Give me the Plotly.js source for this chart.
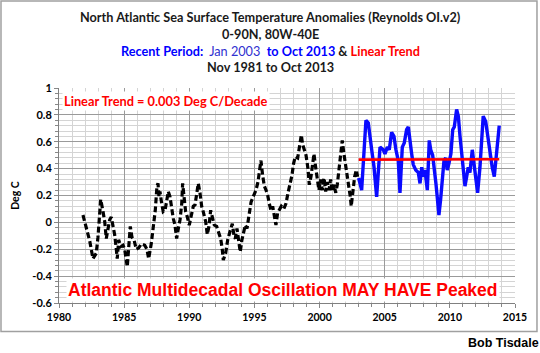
<!DOCTYPE html>
<html>
<head>
<meta charset="utf-8">
<script src="https://cdn.plot.ly/plotly-3.0.1.min.js"></script>
<style>
  html, body { margin: 0; padding: 0; background: #ffffff; }
  #chart { width: 540px; height: 353px; }
</style>
</head>
<body>
<div id="chart"></div>
<script>
// Black dashed series: Nov 1981 to Dec 2002 (decimal year, deg C anomaly)
const earlyYears = [
  1981.84, 1982.10, 1982.36, 1982.61, 1982.86, 1982.99, 1983.12, 1983.20, 1983.38, 1983.51,
  1983.63, 1983.76, 1983.89, 1984.01, 1984.14, 1984.27, 1984.40, 1984.47, 1984.58, 1984.74,
  1984.91, 1985.04, 1985.24, 1985.35, 1985.47, 1985.60, 1985.76, 1985.93, 1986.12, 1986.32,
  1986.58, 1986.75, 1986.88, 1987.08, 1987.29, 1987.39, 1987.52, 1987.60, 1987.67, 1987.75,
  1987.88, 1988.00, 1988.14, 1988.27, 1988.39, 1988.52, 1988.65, 1988.77, 1988.90, 1989.03,
  1989.16, 1989.29, 1989.42, 1989.49, 1989.62, 1989.72, 1989.85, 1990.00, 1990.13, 1990.31,
  1990.44, 1990.57, 1990.69, 1990.82, 1990.95, 1991.07, 1991.26, 1991.38, 1991.51, 1991.64,
  1991.77, 1991.92, 1992.10, 1992.23, 1992.41, 1992.53, 1992.61, 1992.79, 1992.95, 1993.12,
  1993.30, 1993.45, 1993.53, 1993.66, 1993.79, 1993.91, 1994.04, 1994.18, 1994.30, 1994.43,
  1994.56, 1994.74, 1994.94, 1995.12, 1995.27, 1995.40, 1995.50, 1995.63, 1995.76, 1995.89,
  1996.02, 1996.14, 1996.27, 1996.40, 1996.52, 1996.65, 1996.78, 1996.91, 1997.06, 1997.25,
  1997.42, 1997.58, 1997.75, 1997.88, 1998.01, 1998.14, 1998.32, 1998.47, 1998.60, 1998.70,
  1998.83, 1998.96, 1999.11, 1999.21, 1999.34, 1999.44, 1999.57, 1999.70, 1999.82, 1999.95,
  2000.08, 2000.21, 2000.34, 2000.47, 2000.59, 2000.72, 2000.85, 2000.97, 2001.11, 2001.24,
  2001.36, 2001.49, 2001.62, 2001.74, 2001.87, 2002.00, 2002.13, 2002.26, 2002.36, 2002.43,
  2002.56, 2002.69, 2002.82, 2002.92
];
const earlyAnoms = [
  0.055, -0.045, -0.14, -0.27, -0.23, -0.11, 0.04, 0.17, 0.08, 0.005,
  -0.12, -0.045, 0.02, 0.04, -0.03, -0.09, -0.20, -0.27, -0.13, -0.18,
  -0.17, -0.20, -0.33, -0.20, -0.03, -0.11, -0.13, -0.20, -0.19, -0.16,
  -0.17, -0.20, -0.27, -0.16, 0.005, 0.09, 0.27, 0.29, 0.19, 0.23,
  0.14, 0.08, 0.09, 0.17, 0.23, 0.19, 0.09, 0.03, -0.02, -0.12,
  -0.045, 0.02, 0.14, 0.29, 0.17, 0.08, 0.04, -0.02, 0.04, 0.12,
  0.13, 0.22, 0.29, 0.22, 0.12, 0.08, 0.005, -0.09, -0.03, 0.09,
  0.04, -0.02, -0.03, -0.07, -0.12, -0.20, -0.28, -0.23, -0.13, -0.07,
  -0.01, -0.11, -0.12, -0.045, -0.14, -0.22, -0.13, -0.08, -0.02, -0.045,
  0.04, 0.15, 0.20, 0.24, 0.30, 0.40, 0.46, 0.35, 0.27, 0.24,
  0.20, 0.14, 0.09, 0.12, 0.04, -0.02, 0.07, 0.10, 0.12, 0.10,
  0.14, 0.22, 0.29, 0.35, 0.44, 0.49, 0.48, 0.56, 0.65, 0.58,
  0.54, 0.50, 0.40, 0.28, 0.34, 0.41, 0.51, 0.41, 0.34, 0.24,
  0.32, 0.24, 0.33, 0.23, 0.30, 0.24, 0.32, 0.23, 0.28, 0.22,
  0.28, 0.39, 0.51, 0.61, 0.51, 0.43, 0.35, 0.27, 0.19, 0.12,
  0.22, 0.34, 0.39, 0.34
];

// Blue recent period: Jan 2003 to Oct 2013
const recentYears = [
  2003.00, 2003.23, 2003.56, 2003.74, 2004.00, 2004.18, 2004.38, 2004.64, 2004.89, 2005.02,
  2005.20, 2005.35, 2005.53, 2005.71, 2005.86, 2006.04, 2006.17, 2006.35, 2006.50, 2006.68,
  2006.81, 2006.94, 2007.07, 2007.19, 2007.38, 2007.58, 2007.71, 2007.84, 2007.96, 2008.09,
  2008.27, 2008.42, 2008.53, 2008.68, 2008.78, 2008.93, 2009.03, 2009.16, 2009.29, 2009.42,
  2009.55, 2009.68, 2009.80, 2009.93, 2010.08, 2010.22, 2010.34, 2010.52, 2010.65, 2010.78,
  2010.91, 2011.03, 2011.16, 2011.29, 2011.41, 2011.54, 2011.72, 2011.85, 2011.98, 2012.13,
  2012.31, 2012.44, 2012.56, 2012.75, 2012.90, 2013.08, 2013.25, 2013.41, 2013.59, 2013.79
];
const recentAnoms = [
  0.33, 0.24, 0.76, 0.74, 0.54, 0.41, 0.19, 0.56, 0.54, 0.51,
  0.56, 0.54, 0.67, 0.64, 0.54, 0.46, 0.22, 0.56, 0.59, 0.69,
  0.71, 0.59, 0.51, 0.43, 0.39, 0.37, 0.29, 0.41, 0.34, 0.39,
  0.24, 0.61, 0.54, 0.50, 0.39, 0.29, 0.19, 0.055, 0.17, 0.32,
  0.46, 0.48, 0.39, 0.44, 0.51, 0.69, 0.71, 0.84, 0.79, 0.64,
  0.49, 0.39, 0.27, 0.34, 0.41, 0.37, 0.54, 0.44, 0.32, 0.22,
  0.41, 0.66, 0.79, 0.75, 0.64, 0.49, 0.41, 0.34, 0.54, 0.72
];

// Linear trend of the recent period (0.003 deg C/decade)
const trendYears = [2003.00, 2013.79];
const trendAnoms = [0.467, 0.470];

// Axis ticks
const yTickVals = [-0.6, -0.4, -0.2, 0, 0.2, 0.4, 0.6, 0.8, 1];
const yTickText = ["-0.6", "-0.4", "-0.2", "0", "0.2", "0.4", "0.6", "0.8", "1"];
const xTickVals = [1980, 1985, 1990, 1995, 2000, 2005, 2010, 2015];
const xTickText = ["1980", "1985", "1990", "1995", "2000", "2005", "2010", "2015"];

// Title lines
const titleLines = [
  '<b>North Atlantic Sea Surface Temperature Anomalies (Reynolds OI.v2)</b>',
  '<b>0-90N, 80W-40E</b>',
  '<b><span style="color:#0000ff">Recent Period: </span></b><span style="color:#3030d0"> Jan 2003 </span><b><span style="color:#0000ff"> to Oct 2013</span> &amp; <span style="color:#ff0000">Linear Trend</span></b>',
  '<b>Nov 1981 to Oct 2013</b>'
];

const bold = s => '<b>' + s + '</b>';

const traces = [
  { x: earlyYears, y: earlyAnoms, type: 'scatter', mode: 'lines',
    line: { color: '#000000', width: 3.2, dash: '6px,3px' }, hoverinfo: 'skip' },
  { x: recentYears, y: recentAnoms, type: 'scatter', mode: 'lines',
    line: { color: '#0a0aff', width: 3.4 }, hoverinfo: 'skip' },
  { x: trendYears, y: trendAnoms, type: 'scatter', mode: 'lines',
    line: { color: '#ff0000', width: 2.6 }, hoverinfo: 'skip' }
];

const FT = 'Lato, "Open Sans", sans-serif';
const AR = '"Liberation Sans", Arial, sans-serif';

// plot area: x 59..515, y 88..303 in pixels
const titleY = [1.3302, 1.2512, 1.1721, 1.0977];
const titleAnns = titleLines.map((t, i) => ({
  text: t, xref: 'paper', yref: 'paper', x: (270 - 59) / 456, y: titleY[i],
  xanchor: 'center', yanchor: 'middle', showarrow: false,
  font: { family: FT, size: 12.7, color: '#1a1a1a' }
}));

const layout = {
  width: 540, height: 353,
  margin: { l: 59, r: 25, t: 88, b: 50, pad: 0 },
  paper_bgcolor: '#ffffff', plot_bgcolor: '#ffffff',
  showlegend: false,
  xaxis: {
    range: [1980, 2015], tickvals: xTickVals, ticktext: xTickText.map(bold),
    showgrid: true, gridcolor: '#9a9a9a', gridwidth: 1,
    minor: { dtick: 1, showgrid: true, gridcolor: '#d4d4d4', ticks: 'outside', ticklen: 3, tickcolor: '#888' },
    ticks: 'outside', ticklen: 4, tickcolor: '#888',
    showline: true, linecolor: '#808080', linewidth: 1,
    zeroline: false,
    tickfont: { family: FT, size: 10.5, color: '#000000' }
  },
  yaxis: {
    range: [-0.6, 1], tickvals: yTickVals, ticktext: yTickText.map(bold),
    showgrid: true, gridcolor: '#9a9a9a', gridwidth: 1,
    minor: { dtick: 0.04, showgrid: true, gridcolor: '#d4d4d4', ticks: 'outside', ticklen: 3, tickcolor: '#888' },
    ticks: 'outside', ticklen: 4, tickcolor: '#888',
    showline: true, linecolor: '#808080', linewidth: 1,
    zeroline: false,
    tickfont: { family: FT, size: 11, color: '#000000' },
    title: { text: '<b>Deg C</b>', font: { family: FT, size: 10.5, color: '#000000' }, standoff: 10 }
  },
  shapes: [
    { type: 'rect', xref: 'paper', yref: 'paper',
      x0: -0.1272, x1: 1.0482, y0: -0.1330, y1: 1.4047,
      line: { color: '#a0a0a0', width: 1.5 }, fillcolor: 'rgba(0,0,0,0)', layer: 'below' }
  ],
  annotations: titleAnns.concat([
    { text: '<b>Linear Trend = 0.003 Deg C/Decade</b>', xref: 'paper', yref: 'paper',
      x: 0.006, y: 0.94, xanchor: 'left', yanchor: 'middle', showarrow: false,
      font: { family: FT, size: 12.8, color: '#ff0000' }, bgcolor: '#ffffff' },
    { text: '<b>Atlantic Multidecadal Oscillation MAY HAVE Peaked</b>', xref: 'paper', yref: 'paper',
      x: 0.491, y: 0.0605, xanchor: 'center', yanchor: 'middle', showarrow: false,
      font: { family: AR, size: 17.5, color: '#ff0000' }, bgcolor: '#ffffff' },
    { text: '<b>Bob Tisdale</b>', xref: 'paper', yref: 'paper',
      x: 1.056, y: -0.186, xanchor: 'right', yanchor: 'middle', showarrow: false,
      font: { family: AR, size: 12.5, color: '#000000' } }
  ])
};

Plotly.newPlot('chart', traces, layout, { staticPlot: true, displayModeBar: false });
</script>
</body>
</html>
